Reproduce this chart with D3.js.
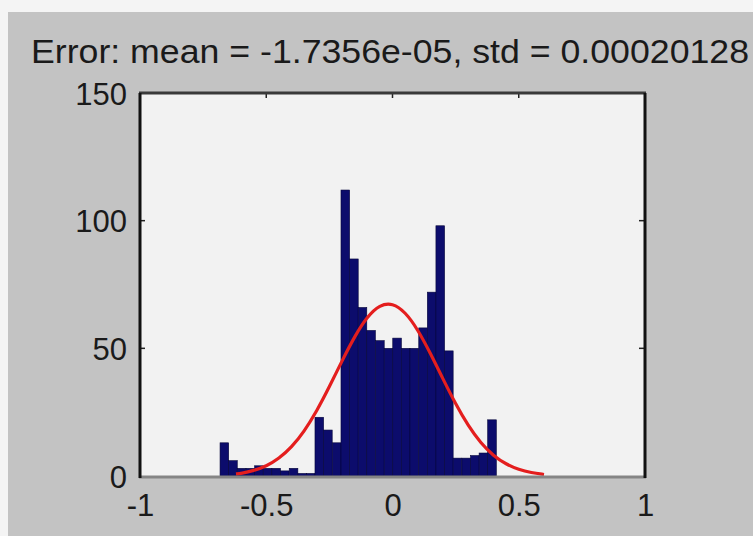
<!DOCTYPE html>
<html><head><meta charset="utf-8">
<script src="https://cdn.jsdelivr.net/npm/d3@7/dist/d3.min.js"></script>
<style>html,body{margin:0;padding:0;background:#fff;}svg{display:block;}</style>
</head><body>
<svg id="c" width="753" height="536"></svg>
<script>
// ---- data ----
const title = "Error: mean = -1.7356e-05, std = 0.00020128";
const binWidth = 0.0342;
const binLeft = [-0.683,-0.649,-0.615,-0.580,-0.546,-0.512,-0.478,-0.444,-0.409,-0.375,-0.341,-0.307,-0.273,-0.238,-0.204,-0.170,-0.136,-0.102,-0.067,-0.033,0.001,0.035,0.069,0.104,0.138,0.172,0.206,0.240,0.275,0.309,0.343,0.377];
const counts  = [13,6,3,3,4,3,3,2,3,1,1,23,18,13,112,85,66,57,53,50,54,50,50,58,72,98,49,7,7,8,9,22];
const curveX = [-0.62,-0.6,-0.55,-0.5,-0.45,-0.4,-0.35,-0.3,-0.25,-0.2,-0.15,-0.1,-0.05,0,0.05,0.1,0.15,0.2,0.25,0.3,0.35,0.4,0.45,0.5,0.55,0.6];
const curveY = [0.8,1.0,2.1,3.8,6.8,11.2,17.4,25.4,34.9,45.1,54.7,62.5,67.1,67.8,64.3,57.4,48.1,38.0,28.2,19.6,12.8,7.9,4.6,2.5,1.3,0.6];
const xTicks = [-1,-0.5,0,0.5,1];
const xTickLabels = ["-1","-0.5","0","0.5","1"];
const yTicks = [0,50,100,150];

// ---- drawing ----
const svg = d3.select("#c");
const L=140, R=645, T=93, B=476;
const x = d3.scaleLinear().domain([-1,1]).range([L,R]);
const y = d3.scaleLinear().domain([0,150]).range([B,T]);

svg.append("rect").attr("x",0).attr("y",0).attr("width",753).attr("height",536).attr("fill","#f4f4f4");
svg.append("rect").attr("x",8).attr("y",12).attr("width",745).attr("height",524).attr("fill","#c3c3c3");
svg.append("rect").attr("x",L).attr("y",T).attr("width",R-L).attr("height",B-T).attr("fill","#f2f2f2");

const bins = binLeft.map((b,i)=>({x0:b,x1:b+binWidth,c:counts[i]}));
svg.append("g").selectAll("rect").data(bins).join("rect")
  .attr("x",d=>x(d.x0)).attr("width",d=>x(d.x1)-x(d.x0))
  .attr("y",d=>y(d.c)).attr("height",d=>y(0)-y(d.c))
  .attr("fill","#0c0c6c").attr("stroke","#06063a").attr("stroke-width",0.6);

const line = d3.line().x((d,i)=>x(curveX[i])).y(d=>y(d)).curve(d3.curveBasis);
svg.append("path").attr("d",line(curveY)).attr("fill","none")
  .attr("stroke","#e41e1e").attr("stroke-width",3.2).attr("stroke-linejoin","round");

// axes
const font = "'Liberation Sans', Arial, sans-serif";
const xAxis = d3.axisBottom(x).tickValues(xTicks).tickFormat((d,i)=>xTickLabels[i]).tickSize(0).tickPadding(26);
const gx = svg.append("g").attr("transform",`translate(0,${B})`).call(xAxis);
gx.select(".domain").remove();
gx.selectAll("text").attr("font-family",font).attr("font-size",31).attr("fill","#1a1a1a")
  .attr("dy","0").attr("y",40);

const yAxis = d3.axisLeft(y).tickValues(yTicks).tickSize(0).tickPadding(13);
const gy = svg.append("g").attr("transform",`translate(${L},0)`).call(yAxis);
gy.select(".domain").remove();
gy.selectAll("text").attr("font-family",font).attr("font-size",31).attr("fill","#1a1a1a").attr("dy","0.36em");

// inward ticks
const tk = svg.append("g");
[50,100].forEach(v=>{
  tk.append("line").attr("x1",L).attr("x2",L+5).attr("y1",y(v)).attr("y2",y(v)).attr("stroke","#222").attr("stroke-width",1.5);
  tk.append("line").attr("x1",R-6).attr("x2",R).attr("y1",y(v)).attr("y2",y(v)).attr("stroke","#222").attr("stroke-width",1.5);
});
[-0.5,0,0.5].forEach(v=>{
  tk.append("line").attr("x1",x(v)).attr("x2",x(v)).attr("y1",T).attr("y2",T+5).attr("stroke","#222").attr("stroke-width",1.5);
});

// frame
svg.append("line").attr("x1",L-1).attr("x2",R+1).attr("y1",T).attr("y2",T).attr("stroke","#3a3a3a").attr("stroke-width",3);
svg.append("line").attr("x1",L-1).attr("x2",R+1).attr("y1",B+1).attr("y2",B+1).attr("stroke","#858585").attr("stroke-width",3);
svg.append("line").attr("x1",L).attr("x2",L).attr("y1",T).attr("y2",B+2).attr("stroke","#111").attr("stroke-width",3);
svg.append("line").attr("x1",R).attr("x2",R).attr("y1",T).attr("y2",B+2).attr("stroke","#111").attr("stroke-width",3);

// title
svg.append("text").attr("x",390).attr("y",63).attr("text-anchor","middle")
  .attr("font-family",font).attr("font-size",34).attr("fill","#1a1a1a")
  .attr("textLength",718).attr("lengthAdjust","spacingAndGlyphs").text(title);
</script>
</body></html>
